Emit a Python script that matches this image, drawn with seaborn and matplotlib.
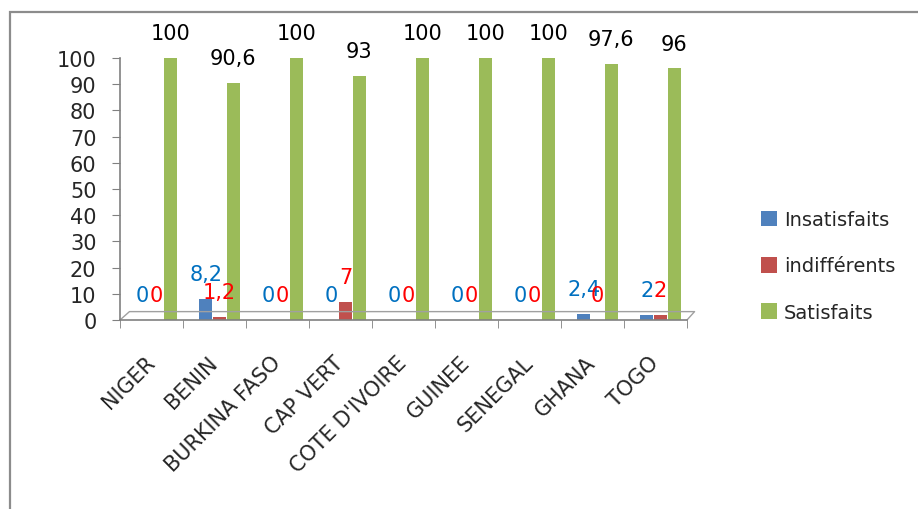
import matplotlib
matplotlib.use("Agg")
import matplotlib.pyplot as plt
import matplotlib.transforms as mtransforms
import seaborn as sns
import pandas as pd
from matplotlib.patches import Rectangle

countries = ["NIGER", "BENIN", "BURKINA FASO", "CAP VERT", "COTE D'IVOIRE",
             "GUINEE", "SENEGAL", "GHANA", "TOGO"]
insatisfaits = [0, 8.2, 0, 0, 0, 0, 0, 2.4, 2]
indifferents = [0, 1.2, 0, 7, 0, 0, 0, 0, 2]
satisfaits = [100, 90.6, 100, 93, 100, 100, 100, 97.6, 96]
series_names = ["Insatisfaits", "indifférents", "Satisfaits"]
bar_colors = ["#4F81BD", "#C0504D", "#9BBB59"]
label_colors = ["#0070C0", "#FF0000", "#000000"]

rows = []
for name, vals in zip(series_names, [insatisfaits, indifferents, satisfaits]):
    for c, v in zip(countries, vals):
        rows.append({"pays": c, "serie": name, "valeur": v})
df = pd.DataFrame(rows)

sns.set_style("white")
plt.rcParams['font.family'] = ['DejaVu Sans']

fig = plt.figure(figsize=(9.18, 5.10), dpi=100)
ax = fig.add_axes([120/918, 1-321/510, (687-120)/918, (321-59)/510])

sns.barplot(data=df, x="pays", y="valeur", hue="serie", order=countries,
            hue_order=series_names, palette=bar_colors, saturation=1,
            width=0.66, gap=0.08, ax=ax, edgecolor="none", legend=True)

# small display offset emulating the 3D depth of the original
depth = mtransforms.ScaledTranslation(5/100, 0, fig.dpi_scale_trans)
for container in ax.containers:
    for bar in container:
        bar.set_transform(ax.transData + depth)

ax.set_ylim(0, 100)
ax.set_xlim(-0.5, len(countries) - 0.5)
ax.set_yticks(range(0, 101, 10))
ax.tick_params(axis="y", labelsize=15, length=6, color="#808080", left=True, pad=11)
ax.set_xlabel("")
ax.set_ylabel("")

# x ticks: labels at centers, tick marks at boundaries
ax.set_xticks(range(len(countries)))
ax.set_xticklabels(countries, rotation=45, ha="right", rotation_mode="anchor", fontsize=15)
ax.tick_params(axis="x", which="major", length=0, pad=23)
offset = mtransforms.ScaledTranslation(-7/100, 0, fig.dpi_scale_trans)
for lbl in ax.get_xticklabels():
    lbl.set_transform(lbl.get_transform() + offset)
ax.set_xticks([i - 0.5 for i in range(len(countries) + 1)], minor=True)
ax.tick_params(axis="x", which="minor", length=6, color="#808080", bottom=True)

for s in ["top", "right"]:
    ax.spines[s].set_visible(False)
for s in ["left", "bottom"]:
    ax.spines[s].set_color("#808080")
    ax.spines[s].set_linewidth(1.2)

# floor outline
ax.plot([-0.5, -0.35, 8.62, 8.5], [0, 3.2, 3.2, 0], color="#A0A0A0", lw=1.0, clip_on=False)

# value labels
for ci, container in enumerate(ax.containers):
    for bar, v in zip(container, [insatisfaits, indifferents, satisfaits][ci]):
        txt = ("%g" % v).replace(".", ",")
        t = ax.text(bar.get_x() + bar.get_width() / 2, v + 9.5, txt, ha="center", va="center",
                    color=label_colors[ci], fontsize=15, clip_on=False)
        t.set_transform(ax.transData + depth)

leg = ax.legend(loc="center left", bbox_to_anchor=(743/918, 1-267/510),
                bbox_transform=fig.transFigure, frameon=False, fontsize=14,
                handlelength=0.85, handleheight=0.85, labelspacing=1.4, handletextpad=0.35)

# outer frame
fig.add_artist(Rectangle((10/918, -0.1), 1.2, 1 - 13/510 + 0.1, transform=fig.transFigure,
                         fill=False, edgecolor="#8C8C8C", lw=1.6))

fig.savefig("out.png", dpi=100)
